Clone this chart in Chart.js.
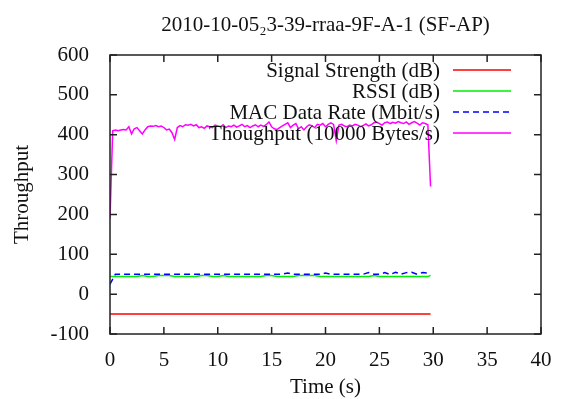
<!DOCTYPE html>
<html>
<head>
<meta charset="utf-8">
<script src="https://cdn.jsdelivr.net/npm/chart.js@4"></script>
<style>
  html, body { margin: 0; padding: 0; background: #ffffff; }
  #wrap { width: 565px; height: 399px; position: relative; }
</style>
</head>
<body>
<div id="wrap"><canvas id="c" width="565" height="399"></canvas></div>
<script>
const chartTitle = "2010-10-05\u20823-39-rraa-9F-A-1 (SF-AP)";
const xAxisTitle = "Time (s)";
const yAxisTitle = "Throughput";
const seriesNames = ["Signal Strength (dB)", "RSSI (dB)", "MAC Data Rate (Mbit/s)", "Thoughput (10000 Bytes/s)"];
const seriesColors = ["#ff0000", "#00ee00", "#0000ff", "#ff00ff"];
const xTickValues = [0, 5, 10, 15, 20, 25, 30, 35, 40];
const yTickValues = [-100, 0, 100, 200, 300, 400, 500, 600];

const timesCoarse = [0, 0.5, 1, 1.5, 2, 2.5, 3, 3.5, 4, 4.5, 5, 5.5, 6, 6.5, 7, 7.5, 8, 8.5, 9, 9.5,
  10, 10.5, 11, 11.5, 12, 12.5, 13, 13.5, 14, 14.5, 15, 15.5, 16, 16.5, 17, 17.5, 18, 18.5, 19, 19.5,
  20, 20.5, 21, 21.5, 22, 22.5, 23, 23.5, 24, 24.5, 25, 25.5, 26, 26.5, 27, 27.5, 28, 28.5, 29, 29.5, 29.75];

const signalStrength = [-50, -50, -50, -50, -50, -50, -50, -50, -50, -50, -50, -50, -50, -50, -50, -50, -50, -50, -50, -50,
  -50, -50, -50, -50, -50, -50, -50, -50, -50, -50, -50, -50, -50, -50, -50, -50, -50, -50, -50, -50,
  -50, -50, -50, -50, -50, -50, -50, -50, -50, -50, -50, -50, -50, -50, -50, -50, -50, -50, -50, -50, -50];

const rssi = [44, 44, 44, 44, 44, 44, 47, 44, 44, 47, 47, 47, 44, 44, 44, 44, 44, 47, 47, 44,
  44, 47, 44, 44, 44, 44, 44, 44, 44, 47, 47, 44, 44, 44, 44, 47, 47, 47, 47, 44,
  44, 44, 44, 44, 44, 44, 44, 44, 44, 47, 44, 44, 44, 44, 44, 44, 44, 44, 44, 44, 47];

const macRate = [25, 50, 50, 50, 50, 50, 50, 50, 50, 50, 50, 50, 50, 50, 50, 50, 50, 50, 50, 50,
  50, 50, 50, 50, 50, 50, 50, 50, 50, 50, 50, 50, 50, 53, 50, 50, 50, 50, 50, 50,
  53, 50, 50, 50, 50, 50, 50, 50, 54, 50, 50, 54, 49, 55, 50, 54, 55, 50, 54, 53, 50];

const timesFine = [0, 0.25, 0.5, 0.75, 1, 1.25, 1.5, 1.75, 2, 2.25, 2.5, 2.75, 3, 3.25, 3.5, 3.75,
  4, 4.25, 4.5, 4.75, 5, 5.25, 5.5, 5.75, 6, 6.25, 6.5, 6.75, 7, 7.25, 7.5, 7.75,
  8, 8.25, 8.5, 8.75, 9, 9.25, 9.5, 9.75, 10, 10.25, 10.5, 10.75, 11, 11.25, 11.5, 11.75,
  12, 12.25, 12.5, 12.75, 13, 13.25, 13.5, 13.75, 14, 14.25, 14.5, 14.75, 15, 15.25, 15.5, 15.75,
  16, 16.25, 16.5, 16.75, 17, 17.25, 17.5, 17.75, 18, 18.25, 18.5, 18.75, 19, 19.25, 19.5, 19.75,
  20, 20.25, 20.5, 20.75, 21, 21.25, 21.5, 21.75, 22, 22.25, 22.5, 22.75, 23, 23.25, 23.5, 23.75,
  24, 24.25, 24.5, 24.75, 25, 25.25, 25.5, 25.75, 26, 26.25, 26.5, 26.75, 27, 27.25, 27.5, 27.75,
  28, 28.25, 28.5, 28.75, 29, 29.25, 29.5, 29.75];

const throughput = [190, 410, 412, 410, 412, 413, 412, 420, 402, 415, 418, 410, 402, 412, 420, 422,
  421, 423, 420, 422, 418, 412, 414, 405, 388, 418, 423, 420, 425, 424, 426, 422,
  425, 418, 420, 416, 422, 420, 418, 424, 422, 420, 425, 418, 422, 420, 424, 419,
  422, 426, 420, 423, 418, 422, 425, 420, 424, 421, 425, 432, 420, 415, 413, 418,
  422, 426, 430, 418, 424, 428, 415, 420, 412, 420, 425, 422, 418, 426, 424, 428,
  420, 426, 430, 426, 385, 424, 426, 422, 420, 424, 422, 426, 424, 420, 423, 427,
  422, 425, 430, 432, 428, 424, 430, 432, 428, 431, 429, 433, 430, 428, 432, 426,
  430, 433, 429, 424, 430, 428, 425, 270];

const FONT = "'Liberation Serif', 'Times New Roman', serif";

function pts(xs, ys) { return xs.map((x, i) => ({ x: x, y: ys[i] })); }

const frameAndLegend = {
  id: 'frameAndLegend',
  afterDatasetsDraw(chart) {
    const { ctx, chartArea: a, scales } = chart;
    ctx.save();
    ctx.strokeStyle = '#222';
    ctx.lineWidth = 1.5;
    ctx.strokeRect(a.left, a.top, a.right - a.left, a.bottom - a.top);
    const tl = 7;
    ctx.beginPath();
    scales.x.ticks.forEach(t => {
      const px = scales.x.getPixelForValue(t.value);
      ctx.moveTo(px, a.bottom); ctx.lineTo(px, a.bottom - tl);
      ctx.moveTo(px, a.top); ctx.lineTo(px, a.top + tl);
    });
    scales.y.ticks.forEach(t => {
      const py = scales.y.getPixelForValue(t.value);
      ctx.moveTo(a.left, py); ctx.lineTo(a.left + tl, py);
      ctx.moveTo(a.right, py); ctx.lineTo(a.right - tl, py);
    });
    ctx.stroke();

    // legend (gnuplot style: right-aligned text, sample to the right)
    ctx.font = "21px " + FONT;
    ctx.textAlign = 'right';
    ctx.textBaseline = 'middle';
    chart.data.datasets.forEach((ds, i) => {
      const y = a.top + 15 + i * 21;
      ctx.fillStyle = '#111';
      ctx.fillText(ds.label, a.right - 101, y + 1);
      ctx.strokeStyle = ds.borderColor;
      ctx.lineWidth = 1.5;
      ctx.setLineDash(ds.borderDash || []);
      ctx.beginPath();
      ctx.moveTo(a.right - 88, y);
      ctx.lineTo(a.right - 30, y);
      ctx.stroke();
      ctx.setLineDash([]);
    });
    ctx.restore();
  }
};

new Chart(document.getElementById('c'), {
  type: 'line',
  data: {
    datasets: [
      { label: seriesNames[0], data: pts(timesCoarse, signalStrength), borderColor: seriesColors[0], order: 4 },
      { label: seriesNames[1], data: pts(timesCoarse, rssi), borderColor: seriesColors[1], order: 3 },
      { label: seriesNames[2], data: pts(timesCoarse, macRate), borderColor: seriesColors[2], borderDash: [6, 4], order: 2 },
      { label: seriesNames[3], data: pts(timesFine, throughput), borderColor: seriesColors[3], order: 1 }
    ]
  },
  options: {
    responsive: false,
    animation: false,
    events: [],
    layout: { padding: { left: 0, right: 24, top: 0, bottom: 0 } },
    elements: {
      line: { borderWidth: 1.5, tension: 0, fill: false },
      point: { radius: 0 }
    },
    plugins: {
      legend: { display: false },
      tooltip: { enabled: false },
      title: {
        display: true,
        text: chartTitle,
        fullSize: false,
        color: '#111',
        font: { family: FONT, size: 21, weight: 'normal', lineHeight: 1.2 },
        padding: { top: 12.4, bottom: 17.4 }
      }
    },
    scales: {
      x: {
        type: 'linear',
        min: 0, max: 40,
        afterBuildTicks: s => { s.ticks = xTickValues.map(v => ({ value: v })); },
        afterFit: s => { s.height = 65; },
        grid: { display: false },
        border: { display: false },
        ticks: { color: '#111', padding: 6, maxRotation: 0, font: { family: FONT, size: 21 } },
        title: { display: true, text: xAxisTitle, color: '#111', padding: { top: 0, bottom: -1 }, font: { family: FONT, size: 21 } }
      },
      y: {
        type: 'linear',
        min: -100, max: 600,
        afterBuildTicks: s => { s.ticks = yTickValues.map(v => ({ value: v })); },
        afterFit: s => { s.width = 110; },
        grid: { display: false },
        border: { display: false },
        ticks: { color: '#111', padding: 13, font: { family: FONT, size: 21 } },
        title: { display: true, text: yAxisTitle, color: '#111', padding: { top: 10, bottom: 0 }, font: { family: FONT, size: 21 } }
      }
    }
  },
  plugins: [frameAndLegend]
});
</script>
</body>
</html>
